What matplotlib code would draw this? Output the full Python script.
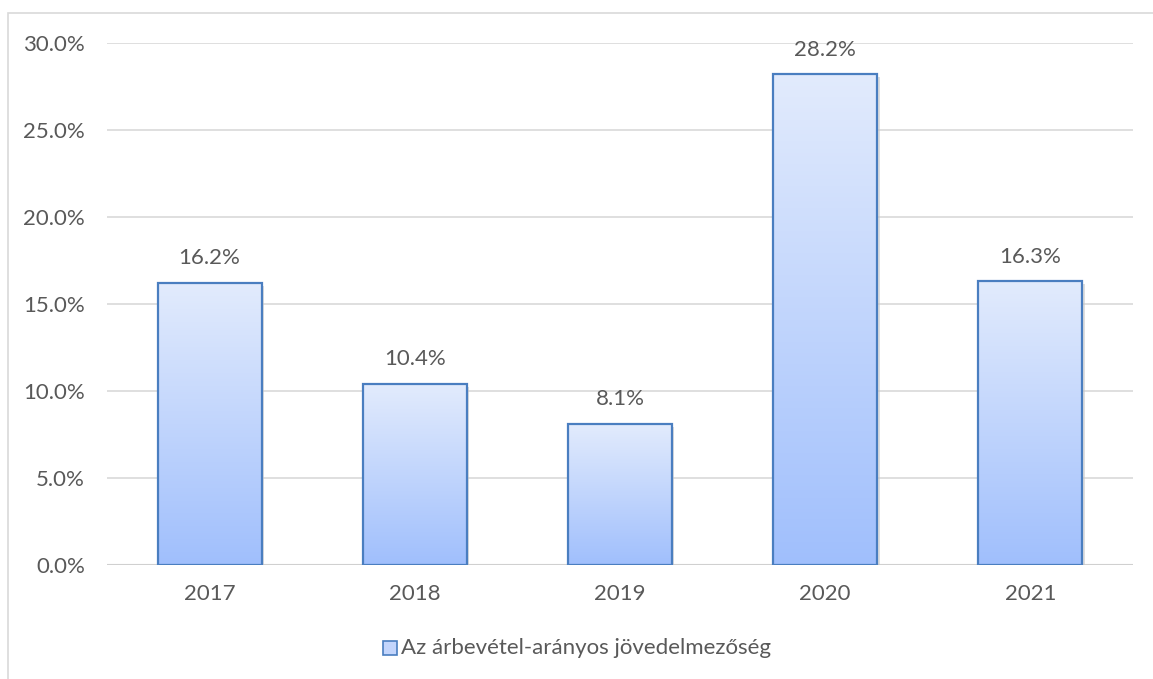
import matplotlib
matplotlib.use("Agg")
import matplotlib.pyplot as plt
import numpy as np
from matplotlib.patches import Rectangle
from matplotlib.colors import LinearSegmentedColormap

years = ["2017", "2018", "2019", "2020", "2021"]
values = [16.2, 10.4, 8.1, 28.2, 16.3]
yticks = [0, 5, 10, 15, 20, 25, 30]
series_name = "Az árbevétel-arányos jövedelmezőség"

plt.rcParams['font.family'] = ['Lato', 'DejaVu Sans']
W, H = 1153, 679
FS = 16
fig = plt.figure(figsize=(W/100, H/100), dpi=100)
# outer frame
fig.patches.append(Rectangle((8/W, -0.2), 1.2, (H-13)/H + 0.2, transform=fig.transFigure,
                             fill=False, edgecolor='#D9D9D9', linewidth=1.2))
ax = fig.add_axes([107/W, 1-565/H, (1133-107)/W, (565-43)/H])
ax.set_xlim(-0.5, 4.5)
ax.set_ylim(0, 30)
for s in ax.spines.values():
    s.set_visible(False)
ax.set_yticks(yticks)
ax.set_yticklabels([f"{v:.1f}%" for v in yticks])
ax.yaxis.grid(True, color='#D9D9D9', linewidth=1.2)
ax.axhline(0, color='#D0D0D0', linewidth=1.5, zorder=1)
ax.set_axisbelow(True)
ax.tick_params(axis='both', length=0, labelsize=FS, colors='#595959')
ax.tick_params(axis='y', pad=16)
ax.set_xticks(range(len(years)))
ax.set_xticklabels(years)
ax.tick_params(axis='x', pad=14)

cmap = LinearSegmentedColormap.from_list('g', ['#A0BFFC', '#E2EBFD'])
grad = np.linspace(0, 1, 256).reshape(-1, 1)
bw = 0.507
for i, v in enumerate(values):
    x0 = i - bw/2
    # shadow
    ax.add_patch(Rectangle((x0 + 0.012, -0.15), bw, v, facecolor='#C8C8C8', edgecolor='none', zorder=2, alpha=0.6))
    im = ax.imshow(grad, extent=(x0, x0 + bw, 0, v), origin='lower', cmap=cmap,
                   aspect='auto', zorder=3)
    r = Rectangle((x0, 0), bw, v, facecolor='none', edgecolor='#4A7EC0', linewidth=1.6, zorder=4)
    ax.add_patch(r)
    im.set_clip_path(r)
    ax.text(i, v + 0.85, f"{v:.1f}%", ha='center', va='bottom', fontsize=FS, color='#595959')
ax.set_xlim(-0.5, 4.5)
ax.set_ylim(0, 30)

# legend
lx, ly = 390, 648
fig.patches.append(Rectangle(((lx-7)/W, 1-(ly+7)/H), 14/W, 14/H, transform=fig.transFigure,
                             facecolor='#C3D5FC', edgecolor='#4A7EC0', linewidth=1.2))
fig.text((lx+11)/W, 1-ly/H, series_name, ha='left', va='center', fontsize=FS, color='#595959')

fig.savefig('out.png', dpi=100)
